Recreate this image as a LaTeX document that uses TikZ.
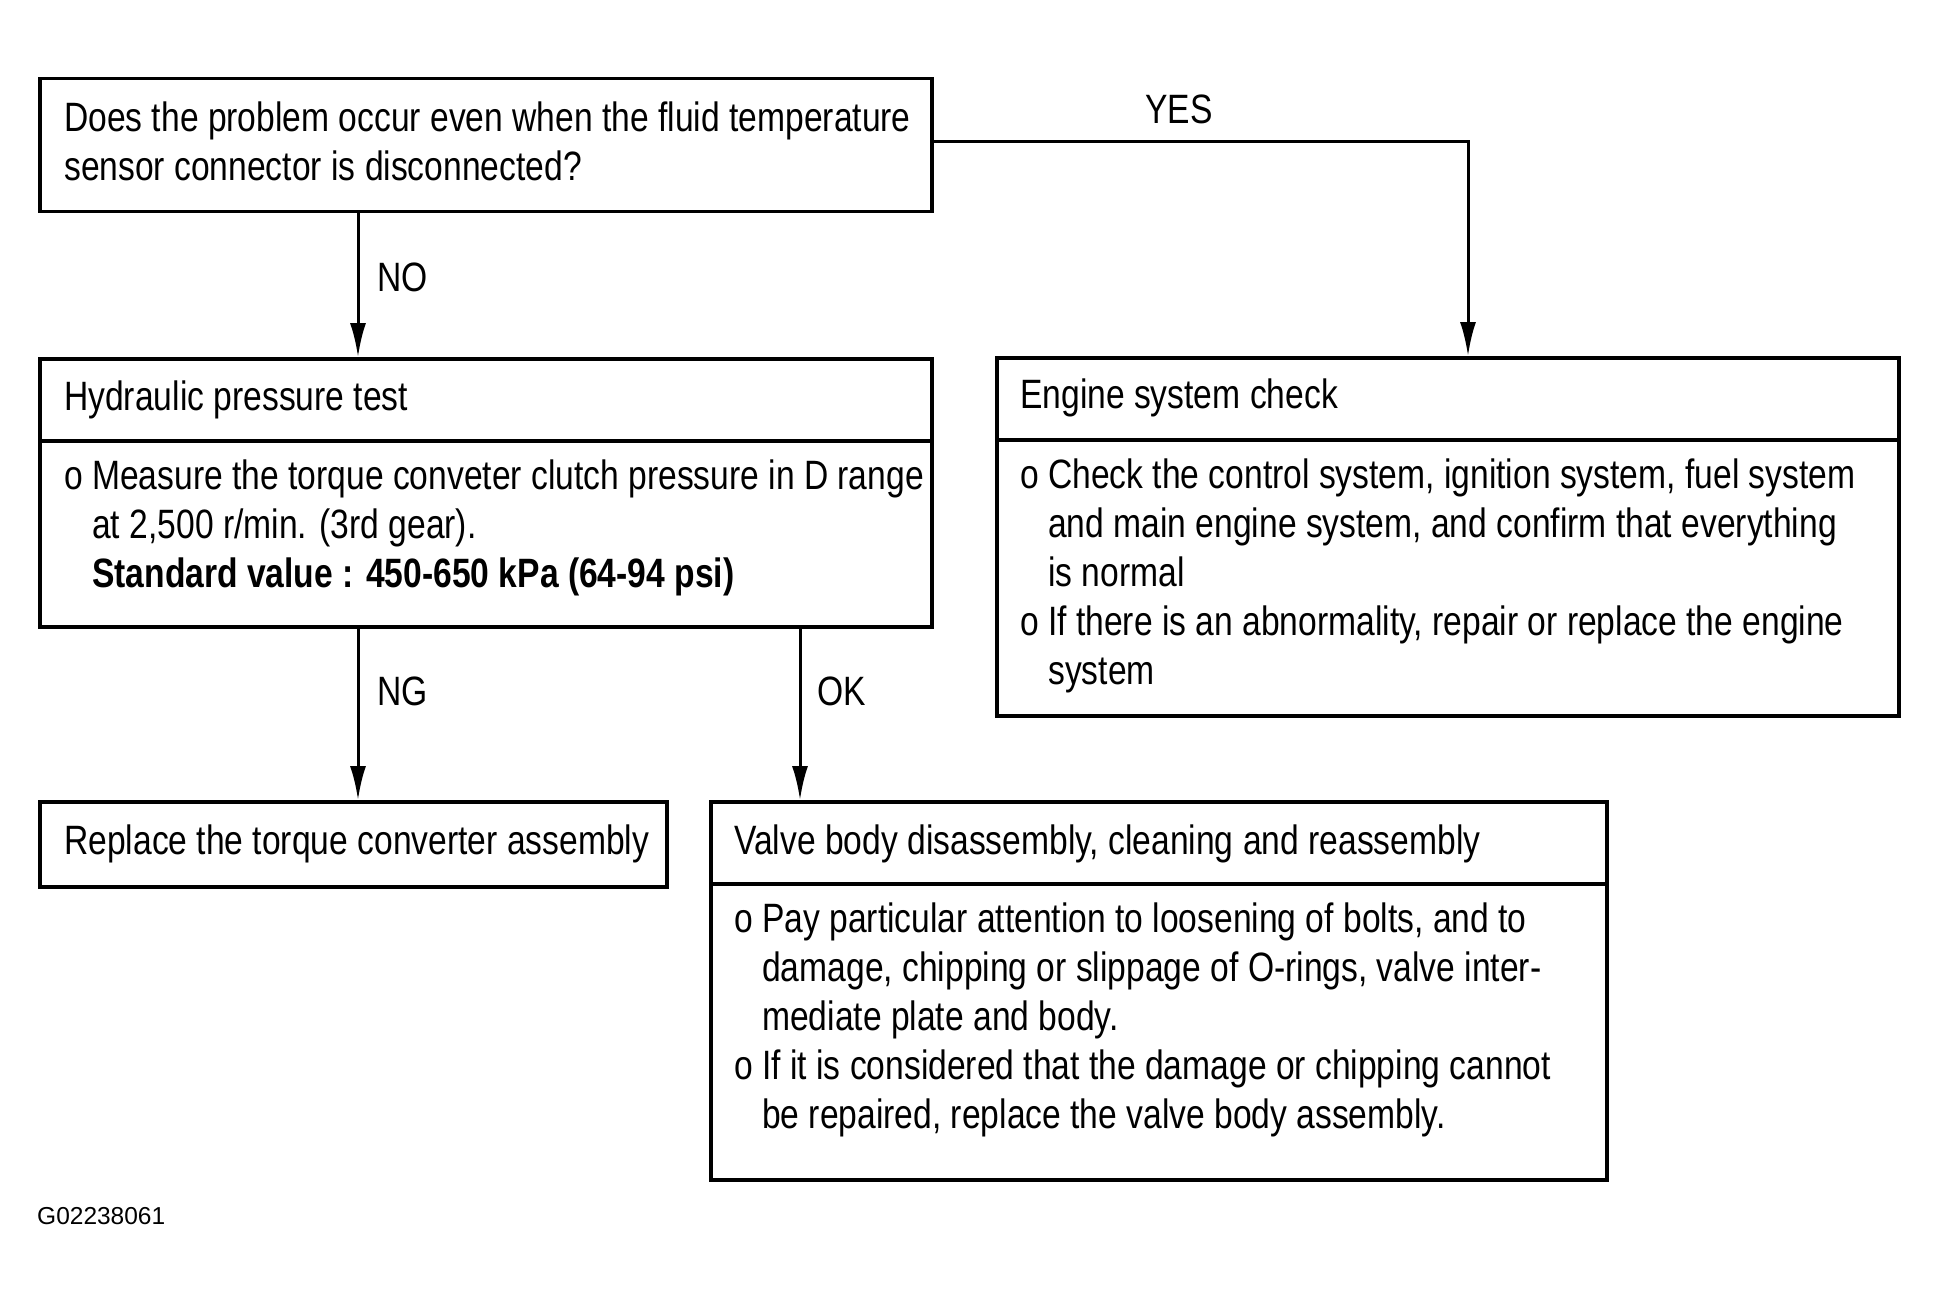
\documentclass[tikz,border=0pt]{standalone}
\usepackage{fontspec}
\setmainfont{Liberation Sans}[FakeStretch=0.82]
\newfontfamily\codefont{Liberation Sans}
\usetikzlibrary{arrows.meta}
\newcommand{\bulind}{\hphantom{o\ }}
\begin{document}
\begin{tikzpicture}[x=1pt,y=-1pt,
  box/.style={draw, line width=3.5pt, inner sep=0, anchor=north west},
  txt/.style={anchor=north west, inner sep=0, align=left, font=\fontsize{41}{49}\selectfont},
  arr/.style={line width=3pt, -{Latex[length=34pt,width=16pt]}},
  lbl/.style={anchor=west, inner sep=0, font=\fontsize{41}{49}\selectfont},
  divider/.style={line width=3.5pt}]
\useasboundingbox[fill=white] (0,0) rectangle (1936,1300);
% boxes
\node[box, minimum width=892pt, minimum height=133pt] (q) at (38,77) {};
\node[box, minimum width=892pt, minimum height=268pt] (h) at (38,357) {};
\node[box, minimum width=902pt, minimum height=358pt] (e) at (995,356) {};
\node[box, minimum width=627pt, minimum height=85pt] (r) at (38,800) {};
\node[box, minimum width=896pt, minimum height=378pt] (v) at (709,800) {};
% dividers
\coordinate (hd) at (0,441);
\coordinate (ed) at (0,440);
\coordinate (vd) at (0,884);
\draw[divider] (h.west |- hd) -- (h.east |- hd);
\draw[divider] (e.west |- ed) -- (e.east |- ed);
\draw[divider] (v.west |- vd) -- (v.east |- vd);
% texts
\node[txt] (qt) at (64,97) {\strut Does the problem occur even when the fluid temperature\\sensor connector is disconnected?};
\node[txt] (ht) at (64,376) {\strut Hydraulic pressure test};
\node[txt] (hb) at (64,455) {\strut o Measure the torque conveter clutch pressure in D range\\\bulind{}at 2,500 r/min. (3rd gear).\\\bulind{}\textbf{Standard value : 450-650 kPa (64-94 psi)}};
\node[txt] (et) at (1020,374) {\strut Engine system check};
\node[txt] (eb) at (1020,454) {\strut o Check the control system, ignition system, fuel system\\\bulind{}and main engine system, and confirm that everything\\\bulind{}is normal\\o If there is an abnormality, repair or replace the engine\\\bulind{}system};
\node[txt] (rt) at (64,820) {\strut Replace the torque converter assembly};
\node[txt] (vt) at (734,820) {\strut Valve body disassembly, cleaning and reassembly};
\node[txt] (vb) at (734,898) {\strut o Pay particular attention to loosening of bolts, and to\\\bulind{}damage, chipping or slippage of O-rings, valve inter-\\\bulind{}mediate plate and body.\\o If it is considered that the damage or chipping cannot\\\bulind{}be repaired, replace the valve body assembly.};
% connectors
\coordinate (xno) at (358,0);
\coordinate (xyes) at (1468,0);
\coordinate (xok) at (800,0);
\coordinate (yyes) at (0,142);
\draw[arr] (q.south -| xno) -- (h.north -| xno);
\draw[arr] (q.east |- yyes) -| (e.north -| xyes);
\draw[arr] (h.south -| xno) -- (r.north -| xno);
\draw[arr] (h.south -| xok) -- (v.north -| xok);
% labels
\node[lbl] (lno) at (377,277) {NO};
\node[lbl, anchor=center] (lyes) at (1179,109) {YES};
\node[lbl] (lng) at (377,691) {NG};
\node[lbl] (lok) at (817,691) {OK};
\node[anchor=west, inner sep=0, font=\codefont\fontsize{24.5}{29}\selectfont] (code) at (37,1216) {G02238061};
\end{tikzpicture}
\end{document}
